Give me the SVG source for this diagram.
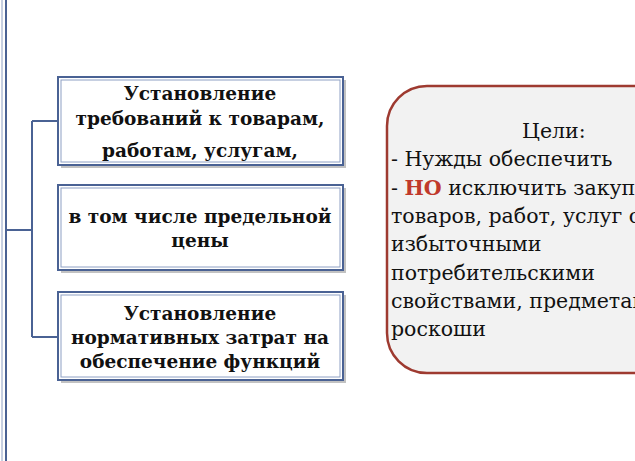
<svg xmlns="http://www.w3.org/2000/svg" width="635" height="461" viewBox="0 0 635 461">
<defs>
<style>
.box{fill:#fff;stroke:#4a6294;stroke-width:2}
.inner{fill:none;stroke:#8ea0c4;stroke-width:1}
.shadow{fill:#9a9a9a;opacity:.6}
.bt{font-family:"DejaVu Serif","Liberation Serif",serif;font-weight:bold;font-size:18.5px;fill:#111;text-anchor:middle}
.rt{font-family:"DejaVu Serif","Liberation Serif",serif;font-size:20.5px;fill:#111}
.con{fill:none;stroke:#4a6294;stroke-width:2}
</style>
</defs>
<rect width="635" height="461" fill="#fff"/>
<g id="leftbar">
<rect x="-10" y="-10" width="16" height="481" fill="#fff" stroke="#4a6294" stroke-width="2"/>
<line x1="2" y1="-10" x2="2" y2="471" stroke="#8ea0c4" stroke-width="1"/>
</g>
<g id="connectors">
<path class="con" d="M6 230 H32 M32 121 V337 M32 121 H58 M32 337 H58"/>
</g>
<g id="box1">
<rect class="shadow" x="61" y="80" width="285" height="88"/>
<rect class="box" x="58" y="77" width="285" height="88"/>
<rect class="inner" x="61" y="80" width="279" height="82"/>
<text class="bt" x="200" y="100">Установление</text>
<text class="bt" x="200" y="125">требований к товарам,</text>
<text class="bt" x="200" y="157">работам, услугам,</text>
</g>
<g id="box2">
<rect class="shadow" x="61" y="188" width="285" height="85"/>
<rect class="box" x="58" y="185" width="285" height="85"/>
<rect class="inner" x="61" y="188" width="279" height="79"/>
<text class="bt" x="200" y="223">в том числе предельной</text>
<text class="bt" x="200" y="247">цены</text>
</g>
<g id="box3">
<rect class="shadow" x="61" y="295" width="285" height="88"/>
<rect class="box" x="58" y="292" width="285" height="88"/>
<rect class="inner" x="61" y="295" width="279" height="82"/>
<text class="bt" x="200" y="320">Установление</text>
<text class="bt" x="200" y="344">нормативных затрат на</text>
<text class="bt" x="200" y="368">обеспечение функций</text>
</g>
<g id="goals">
<rect x="387" y="86" width="300" height="287" rx="40" fill="#f2f2f2" stroke="#9e3a30" stroke-width="2.5"/>
<text class="rt" x="522" y="138">Цели:</text>
<text class="rt" x="391" y="166">- Нужды обеспечить</text>
<text class="rt" x="391" y="195">- <tspan font-weight="bold" fill="#c0392b">НО</tspan> исключить закупки</text>
<text class="rt" x="391" y="223">товаров, работ, услуг с</text>
<text class="rt" x="391" y="251">избыточными</text>
<text class="rt" x="391" y="280">потребительскими</text>
<text class="rt" x="391" y="308">свойствами, предметами</text>
<text class="rt" x="391" y="336">роскоши</text>
</g>
</svg>
